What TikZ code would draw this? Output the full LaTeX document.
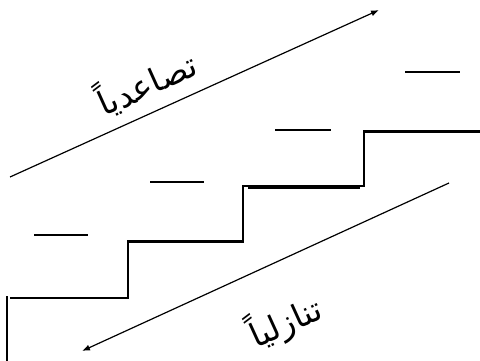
\documentclass[tikz,border=0pt]{standalone}
\usepackage{fontspec}
\usetikzlibrary{arrows.meta}
\TeXXeTstate=1
\newfontfamily\arabicfont[Script=Arabic]{DejaVu Sans}
\tikzset{
  stair/.style={line width=2.5pt, line cap=butt, line join=miter},
  thin/.style={line width=1.2pt},
  dir/.style={line width=1.2pt, -{Latex[length=8pt,width=6pt]}},
  lbl/.style={font=\arabicfont\fontsize{33}{38}\selectfont, inner sep=0pt}
}
\begin{document}
\begin{tikzpicture}[x=1pt,y=-1pt]
\useasboundingbox (0,0) rectangle (480,361);
% arrows
\coordinate (u1) at (10,177);
\coordinate (u2) at (379,10);
\draw[dir] (u1) -- (u2);
\coordinate (d1) at (449,183);
\coordinate (d2) at (82,351);
\draw[dir] (d1) -- (d2);
% staircase
\draw[stair] (7,361) -- (7,296);
\draw[stair] (10,298) -- (128,298) -- (128,241.5) -- (243,241.5) -- (243,186) -- (364,186) -- (364,131.5) -- (480,131.5);
\draw[line width=4.2pt] (248,187.3) -- (360,187.3);
% dashes
\draw[thin] (34,235) -- (88,235);
\draw[thin] (150,182) -- (204,182);
\draw[thin] (275,130) -- (331,130);
\draw[thin] (405,72) -- (460,72);
% labels
\node[lbl, rotate=24.3] (up) at (146,82) {\beginR تصاعدياً\endR};
\node[lbl, rotate=24.5] (down) at (285,321) {\beginR تنازلياً\endR};
\end{tikzpicture}
\end{document}
